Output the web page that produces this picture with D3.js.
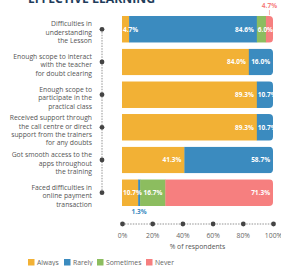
<!DOCTYPE html>
<html>
<head>
<meta charset="utf-8">
<script src="https://cdn.jsdelivr.net/npm/d3@7"></script>
<style>
  body { margin: 0; background: #fff; }
  svg { display: block; font-family: "Open Sans", sans-serif; }
</style>
</head>
<body>
<div id="chart"></div>
<script>
// data
var categories = [
  ["Difficulties in", "understanding", "the Lesson"],
  ["Enough scope to interact", "with the teacher", "for doubt clearing"],
  ["Enough scope to", "participate in the", "practical class"],
  ["Received support through", "the call centre or direct", "support from the trainers", "for any doubts"],
  ["Got smooth access to the", "apps throughout", "the training"],
  ["Faced difficulties in", "online payment", "transaction"]
];
var seriesNames = ["Always", "Rarely", "Sometimes", "Never"];
var always    = [4.7, 84.0, 89.3, 89.3, 41.3, 10.7];
var rarely    = [84.6, 16.0, 10.7, 10.7, 58.7, 1.3];
var sometimes = [6.0, 0, 0, 0, 0, 16.7];
var never     = [4.7, 0, 0, 0, 0, 71.3];
var ticks = [0, 20, 40, 60, 80, 100];
var colors = ["#f2b135", "#3b8bbf", "#8cbd5f", "#f67f7f"];

var width = 281, height = 266;
var svg = d3.select("#chart").append("svg")
    .attr("width", width)
    .attr("height", height);

var rows = categories.map(function(c, i) {
  return { id: i, lines: c, vals: [always[i], rarely[i], sometimes[i], never[i]] };
});

var x = d3.scaleLinear().domain([0, 100]).range([122, 273]);
var y = d3.scaleBand().domain(d3.range(rows.length)).range([16, 206]).paddingInner(0.185);
var color = d3.scaleOrdinal().domain(seriesNames).range(colors);
var fmt = function(v) { return d3.format(".1f")(v) + "%"; };

// title (cut off at top)
svg.append("text")
    .attr("x", 28).attr("y", 3)
    .attr("font-size", 12).attr("font-weight", 700)
    .attr("fill", "#1f3d5c")
    .attr("textLength", 127).attr("lengthAdjust", "spacingAndGlyphs")
    .text("EFFECTIVE LEARNING");

// left dotted spine
var cy = function(i) { return y(i) + y.bandwidth() / 2; };
svg.append("line")
    .attr("x1", 102).attr("x2", 102)
    .attr("y1", cy(0)).attr("y2", cy(rows.length - 1))
    .attr("stroke", "#777").attr("stroke-width", 0.8).attr("stroke-dasharray", "1.5,1.2");

var rowG = svg.selectAll(".row").data(rows).enter().append("g").attr("class", "row");

rowG.append("circle")
    .attr("cx", 102).attr("cy", function(d) { return cy(d.id); })
    .attr("r", 2.4).attr("fill", "#444");

rowG.each(function(d) {
  var g = d3.select(this);
  var n = d.lines.length, lh = 8.4;
  var t = g.append("text")
      .attr("text-anchor", "end")
      .attr("font-size", 6.8)
      .attr("fill", "#555");
  d.lines.forEach(function(l, k) {
    t.append("tspan")
      .attr("x", 92)
      .attr("y", cy(d.id) + 3.5 + (k - (n - 1) / 2) * lh + 2)
      .text(l);
  });
});

// clip paths: right end rounded
var defs = svg.append("defs");
rows.forEach(function(d) {
  var x0 = x(0), x1 = x(100), y0 = y(d.id), h = y.bandwidth(), r = 4;
  defs.append("clipPath").attr("id", "clip" + d.id)
    .append("path")
    .attr("d", "M" + x0 + "," + y0 + "H" + (x1 - r) + "Q" + x1 + "," + y0 + " " + x1 + "," + (y0 + r) +
      "V" + (y0 + h - r) + "Q" + x1 + "," + (y0 + h) + " " + (x1 - r) + "," + (y0 + h) + "H" + x0 + "Z");
});

rowG.each(function(d) {
  var g = d3.select(this);
  var segs = [], acc = 0;
  d.vals.forEach(function(v, k) {
    if (v > 0) segs.push({ k: k, v: v, s: acc, e: acc + v });
    acc += v;
  });
  var bars = g.append("g").attr("clip-path", "url(#clip" + d.id + ")");
  bars.selectAll("rect").data(segs).enter().append("rect")
      .attr("x", function(s) { return x(s.s); })
      .attr("y", y(d.id))
      .attr("width", function(s) { return x(s.e) - x(s.s) + 0.3; })
      .attr("height", y.bandwidth())
      .attr("fill", function(s) { return colors[s.k]; });

  segs.forEach(function(s, idx) {
    var w = x(s.e) - x(s.s);
    var mid = y(d.id) + y.bandwidth() / 2 + 2.3;
    if (s.v < 5 && idx > 0) {
      // outside label
      var above = d.id === 0;
      var cx = (x(s.s) + x(s.e)) / 2;
      var ly = above ? y(d.id) - 8 : y(d.id) + y.bandwidth() + 8;
      g.append("text")
        .attr("x", cx).attr("y", ly)
        .attr("text-anchor", "middle")
        .attr("font-size", 6.5).attr("font-weight", 700)
        .attr("fill", colors[s.k])
        .text(fmt(s.v));
      if (above) {
        g.append("line")
          .attr("x1", cx).attr("x2", cx)
          .attr("y1", ly + 2).attr("y2", y(d.id) - 1)
          .attr("stroke", colors[s.k]).attr("stroke-width", 0.6);
      }
    } else if (w < 22) {
      g.append("text")
        .attr("x", x(s.s) + 1).attr("y", mid)
        .attr("font-size", 6.5).attr("font-weight", 700)
        .attr("fill", "#fff")
        .text(fmt(s.v));
    } else {
      g.append("text")
        .attr("x", x(s.e) - 3).attr("y", mid)
        .attr("text-anchor", "end")
        .attr("font-size", 6.5).attr("font-weight", 700)
        .attr("fill", "#fff")
        .text(fmt(s.v));
    }
  });
});

// bottom axis
var axisY = 224;
var axis = d3.axisBottom(x).tickValues(ticks).tickSize(0).tickPadding(9)
    .tickFormat(function(t) { return t + "%"; });
var ax = svg.append("g").attr("transform", "translate(0," + axisY + ")").call(axis);
ax.select(".domain").attr("stroke", "#777").attr("stroke-width", 0.8).attr("stroke-dasharray", "1.5,1.2")
    .attr("d", "M" + x(0) + ",0H" + x(100));
ax.selectAll(".tick text").attr("font-size", 6.8).attr("fill", "#666").attr("font-family", "Open Sans, sans-serif");
ax.selectAll(".tick").append("circle").attr("r", 2.4).attr("fill", "#444");

svg.append("text")
    .attr("x", (x(0) + x(100)) / 2).attr("y", 249)
    .attr("text-anchor", "middle")
    .attr("font-size", 6.8).attr("fill", "#555")
    .text("% of respondents");

// legend
var legendX = [28, 64, 97, 146];
var lg = svg.selectAll(".lg").data(seriesNames).enter().append("g")
    .attr("transform", function(d, i) { return "translate(" + legendX[i] + ",259)"; });
lg.append("rect").attr("width", 6.5).attr("height", 6.5)
    .attr("fill", function(d) { return color(d); });
lg.append("text").attr("x", 9).attr("y", 5.8)
    .attr("font-size", 6.8).attr("fill", "#666")
    .text(function(d) { return d; });
</script>
</body>
</html>
